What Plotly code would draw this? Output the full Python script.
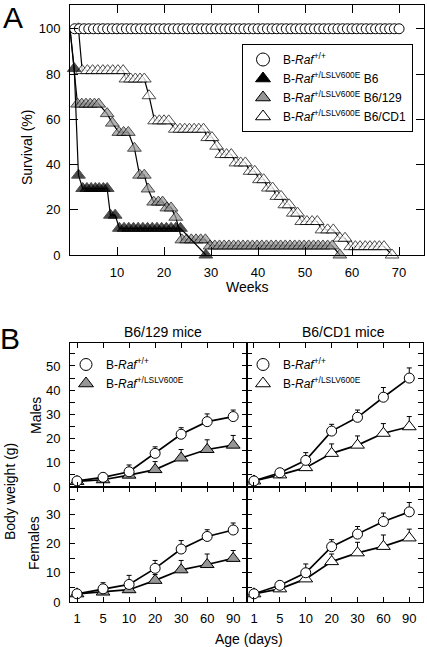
import plotly.graph_objects as go

W, H = 427, 647
FONT = "Liberation Sans"

def fx(p):
    return p / W

def fy(p):
    return 1 - p / H

# ---------------- Panel A data (survival, %) ----------------
wt_weeks = [1, 2, 3, 4, 5, 6, 7, 8, 9, 10, 11, 12, 13, 14, 15, 16, 17, 18, 19, 20,
            21, 22, 23, 24, 25, 26, 27, 28, 29, 30, 31, 32, 33, 34, 35, 36, 37, 38, 39, 40,
            41, 42, 43, 44, 45, 46, 47, 48, 49, 50, 51, 52, 53, 54, 55, 56, 57, 58, 59, 60,
            61, 62, 63, 64, 65, 66, 67, 68, 69, 70]
wt_surv = [100, 100, 100, 100, 100, 100, 100, 100, 100, 100, 100, 100, 100, 100, 100, 100, 100, 100, 100, 100,
           100, 100, 100, 100, 100, 100, 100, 100, 100, 100, 100, 100, 100, 100, 100, 100, 100, 100, 100, 100,
           100, 100, 100, 100, 100, 100, 100, 100, 100, 100, 100, 100, 100, 100, 100, 100, 100, 100, 100, 100,
           100, 100, 100, 100, 100, 100, 100, 100, 100, 100]

b6_weeks = [0, 0.9, 1.8, 2.7, 3.6, 4.5, 5.4, 6.2, 7.1, 7.9, 8.6, 9.6,
            10.5, 11.5, 12.5, 13.5, 14.5, 15.5, 16.5, 17.5, 18.5, 19.5, 20.5, 21.5, 22.5, 23.5, 28.9]
b6_surv = [100, 82.4, 35.3, 29.4, 29.4, 29.4, 29.4, 29.4, 29.4, 29.4, 17.6, 17.6,
           11.8, 11.8, 11.8, 11.8, 11.8, 11.8, 11.8, 11.8, 11.8, 11.8, 11.8, 11.8, 11.8, 11.8, 0]

b129_weeks = [0, 1.6, 2.5, 3.4, 4.3, 5.2, 6.1, 7.9, 9.0, 10.4, 11.4, 12.4, 13.7, 14.8, 15.8, 16.6,
              17.8, 18.8, 19.7, 20.6, 21.5, 22.5, 23.8, 24.8, 25.8, 26.8, 27.8, 28.8,
              29.8, 30.8, 31.8, 32.8, 33.8, 34.8, 35.8, 36.8, 37.8, 38.8, 39.8, 40.8, 41.8, 42.8,
              43.8, 44.8, 45.8, 46.8, 47.8, 48.8, 49.8, 50.8, 51.8, 52.8, 53.8, 54.8, 55.8, 57.4]
b129_surv = [100, 66.7, 66.7, 66.7, 66.7, 66.7, 66.7, 62.5, 58.3, 54.2, 54.2, 54.2, 47.2, 35.3, 35.3, 29.2,
             23.4, 23.4, 23.4, 20.8, 20.8, 16.7, 6.7, 6.7, 6.7, 6.7, 6.7, 6.7,
             4.0, 4.0, 4.0, 4.0, 4.0, 4.0, 4.0, 4.0, 4.0, 4.0, 4.0, 4.0, 4.0, 4.0,
             4.0, 4.0, 4.0, 4.0, 4.0, 4.0, 4.0, 4.0, 4.0, 4.0, 4.0, 4.0, 4.0, 0]

cd1_weeks = [0, 1.8, 2.6, 3.7, 4.8, 5.9, 7.0, 8.0, 9.1, 10.2, 11.3, 11.9, 12.9, 13.9, 14.9, 15.8, 16.8,
             18, 19, 20, 21, 22.4, 23.4, 24.4, 25.4, 26.4, 27.4, 28.4, 29.3, 30.2, 31.2,
             32.3, 33.3, 34.3, 35.3, 36.3, 37.3, 38.3, 39.3, 40.3, 41.2, 42.2, 43.1, 44.0, 44.9,
             45.7, 46.6, 47.5, 48.4, 49.3, 50.4, 51.5, 52.6, 53.6, 54.8, 56.0, 57.4, 58.5,
             59.7, 60.7, 61.7, 62.8, 63.8, 64.8, 65.8, 66.8, 68.5]
cd1_surv = [100, 100, 81.5, 81.5, 81.5, 81.5, 81.5, 81.5, 81.5, 81.5, 81.5, 77.8, 77.8, 77.8, 77.8, 77.8, 70.4,
            59.3, 59.3, 59.3, 59.3, 55.6, 55.6, 55.6, 55.6, 55.6, 55.6, 55.6, 51.9, 51.9, 48.1,
            44.4, 44.4, 44.4, 40.7, 40.7, 40.7, 37.0, 37.0, 33.3, 33.3, 29.6, 29.6, 25.9, 25.9,
            22.2, 22.2, 18.5, 18.5, 14.8, 14.8, 14.8, 14.8, 11.1, 11.1, 11.1, 7.4, 7.4,
            3.7, 3.7, 3.7, 3.7, 3.7, 3.7, 3.7, 3.7, 0]

# ---------------- Panel B data (body weight, g) ----------------
age_labels = ["1", "5", "10", "20", "30", "60", "90"]
age_pos = [0, 1, 2, 3, 4, 5, 6]

m129_wt = [2.5, 4.0, 6.3, 13.9, 21.8, 27.0, 29.1]
m129_wt_err = [1.0, 0.8, 2.8, 2.7, 2.7, 3.2, 2.7]
m129_mut = [2.3, 3.0, 4.9, 7.2, 12.0, 15.5, 17.3]
m129_mut_err = [1.0, 0.8, 1.5, 3.3, 3.5, 4.0, 4.0]

mcd1_wt = [2.5, 5.9, 11.0, 23.1, 28.8, 37.1, 45.0]
mcd1_wt_err = [0.5, 0.8, 3.2, 2.8, 3.0, 4.0, 4.2]
mcd1_mut = [2.5, 5.0, 8.0, 13.9, 17.3, 22.2, 24.9]
mcd1_mut_err = [0.5, 0.8, 3.0, 3.9, 3.8, 4.0, 4.2]

f129_wt = [2.8, 4.5, 6.0, 11.5, 18.1, 22.4, 24.6]
f129_wt_err = [0.8, 2.1, 3.1, 2.7, 2.9, 2.3, 2.4]
f129_mut = [2.8, 3.4, 4.2, 7.4, 11.0, 12.8, 14.9]
f129_mut_err = [0.8, 1.0, 1.5, 2.0, 3.2, 3.6, 2.7]

fcd1_wt = [2.8, 5.7, 10.0, 18.9, 23.2, 27.5, 30.8]
fcd1_wt_err = [0.5, 0.8, 3.0, 2.4, 2.6, 2.9, 3.2]
fcd1_mut = [2.8, 4.5, 7.9, 13.8, 16.8, 19.0, 21.9]
fcd1_mut_err = [0.5, 0.8, 2.0, 2.6, 3.6, 3.9, 3.0]

GREY = "#969696"
WT_LABEL = "B-<i>Raf</i><sup>+/+</sup>"
MUT_LABEL = "B-<i>Raf</i><sup>+/LSLV600E</sup>"

fig = go.Figure()

# ---- Panel A traces ----
mk_line = dict(color="black", width=1)

def first_hidden(n, size):
    return [0] + [size] * (n - 1)

for xs, ys, col in [(cd1_weeks, cd1_surv, "white"), (b129_weeks, b129_surv, GREY), (b6_weeks, b6_surv, "black")]:
    fig.add_trace(go.Scatter(x=xs, y=ys, mode="lines+markers", xaxis="x", yaxis="y",
                             line=dict(color="black", width=1.2),
                             marker=dict(symbol="triangle-up", size=first_hidden(len(xs), 12), color=col,
                                         line=mk_line),
                             cliponaxis=False, showlegend=False))
fig.add_trace(go.Scatter(x=wt_weeks, y=wt_surv, mode="lines+markers", xaxis="x", yaxis="y",
                         line=dict(color="black", width=1.2),
                         marker=dict(symbol="circle", size=10, color="white", line=mk_line),
                         cliponaxis=False, showlegend=False))

# legend-only entries for panel A
for name, sym, col in [(WT_LABEL, "circle", "white"),
                       (MUT_LABEL + " B6", "triangle-up", "black"),
                       (MUT_LABEL + " B6/129", "triangle-up", GREY),
                       (MUT_LABEL + " B6/CD1", "triangle-up", "white")]:
    fig.add_trace(go.Scatter(x=[None], y=[None], mode="markers", xaxis="x", yaxis="y", name=name,
                             marker=dict(symbol=sym, size=13, color=col, line=dict(color="black", width=1)),
                             legend="legend", showlegend=True))

# ---- Panel B traces ----
def add_b(yvals, errs, sym, col, xa, ya, size):
    fig.add_trace(go.Scatter(x=age_pos, y=yvals, mode="lines+markers", xaxis=xa, yaxis=ya,
                             line=dict(color="black", width=1.7),
                             marker=dict(symbol=sym, size=size, color=col, line=dict(color="black", width=1)),
                             error_y=dict(type="data", array=errs, arrayminus=[0] * len(errs), symmetric=False,
                                          color="black", thickness=1, width=2.5),
                             cliponaxis=False, showlegend=False))

add_b(m129_mut, m129_mut_err, "triangle-up", GREY, "x2", "y2", 12)
add_b(m129_wt, m129_wt_err, "circle", "white", "x2", "y2", 10)
add_b(mcd1_mut, mcd1_mut_err, "triangle-up", "white", "x3", "y3", 12)
add_b(mcd1_wt, mcd1_wt_err, "circle", "white", "x3", "y3", 10)
add_b(f129_mut, f129_mut_err, "triangle-up", GREY, "x4", "y4", 12)
add_b(f129_wt, f129_wt_err, "circle", "white", "x4", "y4", 10)
add_b(fcd1_mut, fcd1_mut_err, "triangle-up", "white", "x5", "y5", 12)
add_b(fcd1_wt, fcd1_wt_err, "circle", "white", "x5", "y5", 10)

for lg, xa, ya, mcol in [("legend2", "x2", "y2", GREY), ("legend3", "x3", "y3", "white")]:
    fig.add_trace(go.Scatter(x=[None], y=[None], mode="markers", xaxis=xa, yaxis=ya, name=WT_LABEL,
                             marker=dict(symbol="circle", size=12, color="white", line=dict(color="black", width=1)),
                             legend=lg, showlegend=True))
    fig.add_trace(go.Scatter(x=[None], y=[None], mode="markers", xaxis=xa, yaxis=ya, name=MUT_LABEL,
                             marker=dict(symbol="triangle-up", size=13, color=mcol, line=dict(color="black", width=1)),
                             legend=lg, showlegend=True))

# ---------------- Layout ----------------
axis_common = dict(showline=True, linecolor="black", linewidth=1, mirror="ticks", ticks="inside",
                   tickcolor="black", showgrid=False, zeroline=False, automargin=False,
                   tickfont=dict(family=FONT, size=13, color="black"))

XA = (fx(70), fx(424))
YA = (fy(255), fy(5))
XL = (fx(70), fx(247))
XR = (fx(247), fx(423))
YM = (fy(487), fy(343))
YF = (fy(602), fy(487))

b_x = dict(axis_common, range=[-0.27, 6.53], tickmode="array", tickvals=age_pos, ticktext=age_labels,
           ticklen=5, ticklabelstandoff=4)
b_y = dict(axis_common, dtick=10, tick0=0, ticklen=5,
           minor=dict(dtick=5, ticks="inside", ticklen=5, tickcolor="black"), ticklabelstandoff=6)

leg_font = dict(family=FONT, size=12, color="black")
layout = dict(
    template="none",
    width=W, height=H, margin=dict(l=0, r=0, t=0, b=0, autoexpand=False),
    paper_bgcolor="white", plot_bgcolor="white",
    font=dict(family=FONT, color="black"),
    xaxis=dict(axis_common, domain=XA, anchor="y", range=[0, 75.3], tickvals=[10, 20, 30, 40, 50, 60, 70],
               ticklen=8, ticklabelstandoff=5),
    yaxis=dict(axis_common, domain=YA, anchor="x", range=[0, 110.5], tickvals=[0, 20, 40, 60, 80, 100],
               ticklen=8, ticklabelstandoff=6),
    xaxis2=dict(b_x, domain=XL, anchor="y2", showticklabels=False),
    yaxis2=dict(b_y, domain=YM, anchor="x2", range=[0, 59.5]),
    xaxis3=dict(b_x, domain=XR, anchor="y3", showticklabels=False),
    yaxis3=dict(b_y, domain=YM, anchor="x3", range=[0, 59.5], showticklabels=False),
    xaxis4=dict(b_x, domain=XL, anchor="y4"),
    yaxis4=dict(b_y, domain=YF, anchor="x4", range=[0, 39.3]),
    xaxis5=dict(b_x, domain=XR, anchor="y5"),
    yaxis5=dict(b_y, domain=YF, anchor="x5", range=[0, 39.3], showticklabels=False),
    legend=dict(x=fx(242), y=fy(44), xanchor="left", yanchor="top", bgcolor="white",
                bordercolor="black", borderwidth=1, font=leg_font, tracegroupgap=0),
    legend2=dict(x=fx(66), y=fy(350), xanchor="left", yanchor="top", bgcolor="rgba(0,0,0,0)",
                 borderwidth=0, font=leg_font),
    legend3=dict(x=fx(243), y=fy(350), xanchor="left", yanchor="top", bgcolor="rgba(0,0,0,0)",
                 borderwidth=0, font=leg_font),
)
fig.update_layout(**layout)

annots = [
    dict(text="A", x=fx(13), y=fy(17), size=30),
    dict(text="B", x=fx(10), y=fy(338), size=30),
    dict(text="Survival (%)", x=fx(27), y=fy(148), textangle=-90, size=14),
    dict(text="Weeks", x=fx(247), y=fy(287), size=14),
    dict(text="B6/129 mice", x=fx(163), y=fy(332), size=14),
    dict(text="B6/CD1 mice", x=fx(343), y=fy(332), size=14),
    dict(text="Body weight (g)", x=fx(10), y=fy(492), textangle=-90, size=14),
    dict(text="Males", x=fx(36), y=fy(416), textangle=-90, size=14),
    dict(text="Females", x=fx(34), y=fy(543), textangle=-90, size=14),
    dict(text="Age (days)", x=fx(249), y=fy(639), size=14),
]
ann_list = []
for a in annots:
    sz = a.pop("size")
    a.update(xref="paper", yref="paper", showarrow=False, xanchor="center", yanchor="middle",
             font=dict(family=FONT, color="black", size=sz))
    ann_list.append(a)
fig.update_layout(annotations=ann_list)

fig.write_html("out.html", config={"displayModeBar": False, "staticPlot": True},
               post_script="document.body.style.margin='0';document.body.style.overflow='hidden';")
